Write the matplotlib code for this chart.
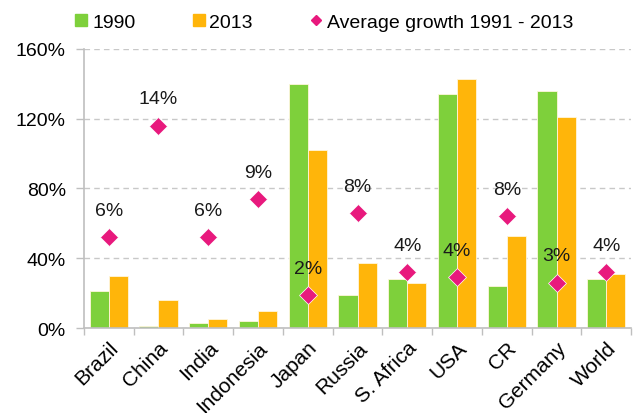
import matplotlib
matplotlib.use("Agg")
import matplotlib.pyplot as plt
import numpy as np
from matplotlib.lines import Line2D
from matplotlib.ticker import FuncFormatter

plt.rcParams['font.family'] = ['Liberation Sans', 'DejaVu Sans']

countries = ['Brazil', 'China', 'India', 'Indonesia', 'Japan', 'Russia',
             'S. Africa', 'USA', 'CR', 'Germany', 'World']
v1990 = [21, 1, 3, 4, 140, 19, 28, 134, 24, 136, 28]
v2013 = [30, 16, 5, 10, 102, 37, 26, 143, 53, 121, 31]
growth_pos = [52, 116, 52, 74, 19, 66, 32, 29, 64, 26, 32]
growth_lbl = ['6%', '14%', '6%', '9%', '2%', '8%', '4%', '4%', '8%', '3%', '4%']
yticks = [0, 40, 80, 120, 160]

green = '#7ED03B'
orange = '#FFB50A'
pink = '#E8197D'
gray = '#BFBFBF'
FS = 14

fig = plt.figure(figsize=(6.35, 4.14), dpi=100)
ax = fig.add_axes([0.132, 0.2053, 0.862, 0.674])

x = np.arange(len(countries))
w = 0.385
ax.bar(x - w / 2, v1990, w, color=green, edgecolor='#FFF6DC', linewidth=0.6, zorder=2)
ax.bar(x + w / 2, v2013, w, color=orange, edgecolor='#FFF6DC', linewidth=0.6, zorder=2)
ax.plot(x, growth_pos, linestyle='none', marker='D', markersize=9,
        color=pink, markeredgecolor='white', markeredgewidth=0.5, zorder=3)
for xi, yi, lbl in zip(x, growth_pos, growth_lbl):
    ax.annotate(lbl, (xi, yi), xytext=(0, 16), textcoords='offset points',
                ha='center', va='baseline', fontsize=FS, color='#1a1a1a', zorder=4)

ax.set_xlim(-0.5, len(countries) - 0.5)
ax.set_ylim(0, 160)
ax.set_yticks(yticks)
ax.yaxis.set_major_formatter(FuncFormatter(lambda v, p: f'{v:.0f}%'))
ax.grid(axis='y', linestyle=(0, (4, 3)), color='#C8C8C8', linewidth=1, zorder=0)
ax.set_axisbelow(True)

ax.set_xticks(x)
ax.set_xticklabels(countries, rotation=45, ha='right', rotation_mode='anchor',
                   fontsize=15)
ax.set_xticks(np.arange(-0.5, len(countries)), minor=True)
ax.tick_params(axis='x', which='major', length=0, pad=7)
ax.tick_params(axis='x', which='minor', length=5, color=gray, width=1)
ax.tick_params(axis='y', length=6, color=gray, width=1, labelsize=FS, pad=7)

for s in ['top', 'right']:
    ax.spines[s].set_visible(False)
for s in ['left', 'bottom']:
    ax.spines[s].set_color(gray)
    ax.spines[s].set_linewidth(1.2)

handles = [
    Line2D([], [], linestyle='none', marker='s', markersize=8, color=green),
    Line2D([], [], linestyle='none', marker='s', markersize=8, color=orange),
    Line2D([], [], linestyle='none', marker='D', markersize=5, color=pink),
]
fig.legend(handles, ['1990', '2013', 'Average growth 1991 - 2013'],
           loc='center left', bbox_to_anchor=(0.119, 0.944), ncol=3, frameon=False,
           fontsize=FS, handletextpad=0.25, columnspacing=2.95, handlelength=0.6,
           borderpad=0, borderaxespad=0)

fig.savefig('out.png', dpi=100)
